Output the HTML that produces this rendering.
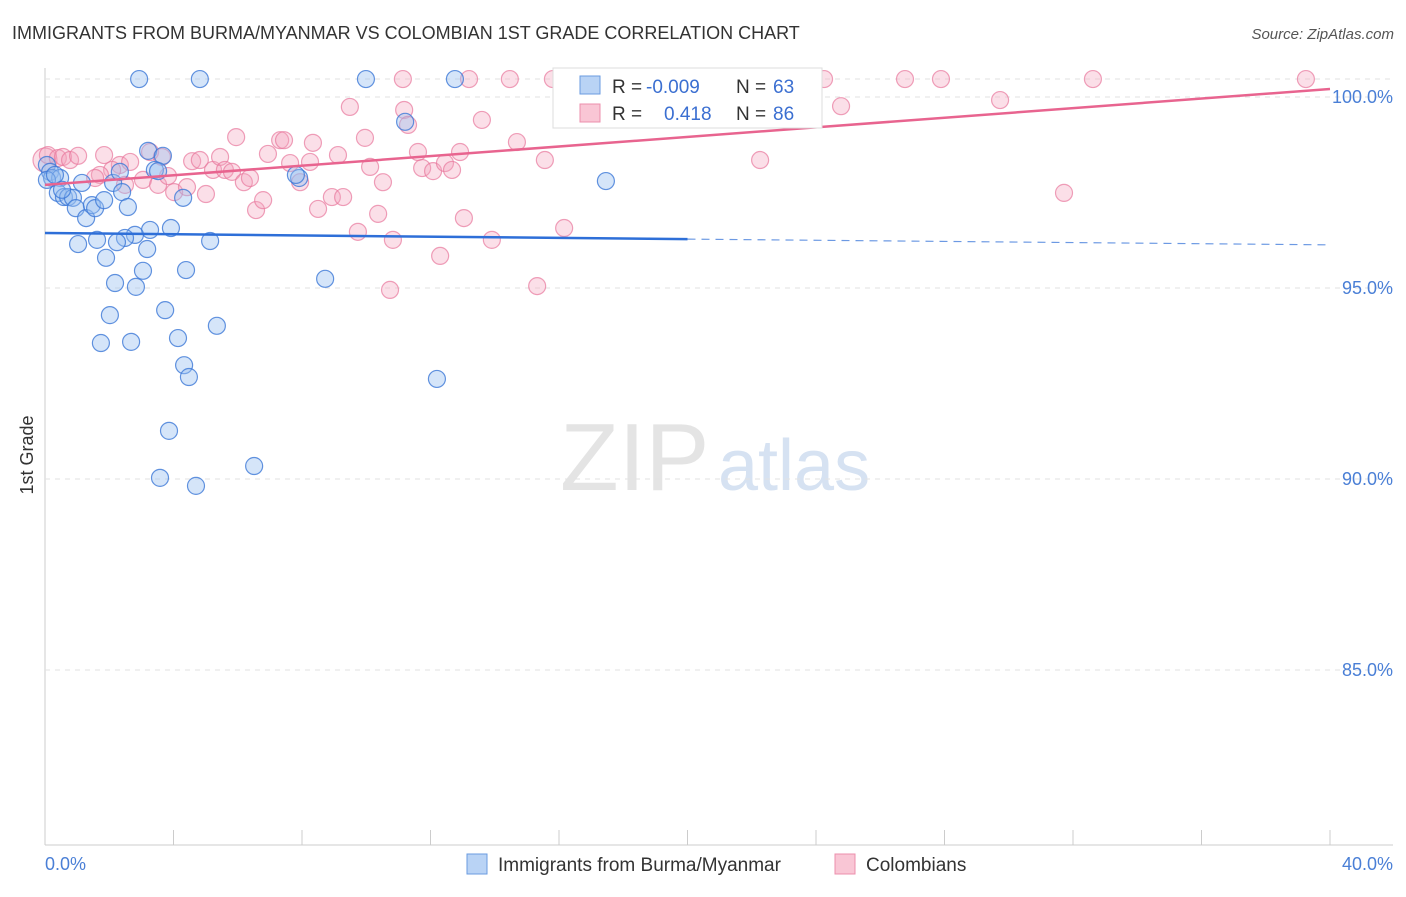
<!DOCTYPE html>
<html><head><meta charset="utf-8"><style>
body{margin:0;background:#fff;font-family:"Liberation Sans",sans-serif}
svg text{font-family:"Liberation Sans",sans-serif}
</style></head><body>
<svg id="chart" width="1406" height="892">
<text x="12" y="39" font-size="18" fill="#333">IMMIGRANTS FROM BURMA/MYANMAR VS COLOMBIAN 1ST GRADE CORRELATION CHART</text>
<text x="1394" y="39" font-size="15" fill="#555" font-style="italic" text-anchor="end">Source: ZipAtlas.com</text>
<text x="33" y="455" font-size="18" fill="#333" transform="rotate(-90 33 455)" text-anchor="middle">1st Grade</text>
<text x="560" y="490" font-size="96" fill="#e4e4e4" font-family="Liberation Serif">ZIP</text>
<text x="718" y="490" font-size="72" fill="#d6e2f2">atlas</text>
<g id="grid"></g><g id="pts"></g><g id="lines"></g>
<g>
<rect x="553" y="68" width="269" height="60" fill="#fff" stroke="#ddd"/>
<rect x="580" y="76" width="20" height="18" fill="#b9d3f5" stroke="#6a9be0"/>
<rect x="580" y="104" width="20" height="18" fill="#f9c6d5" stroke="#ec8fac"/>
<text x="612" y="93" font-size="19" fill="#333">R =</text><text x="646" y="93" font-size="19" fill="#3b6fd1">-0.009</text>
<text x="736" y="93" font-size="19" fill="#333">N =</text><text x="773" y="93" font-size="19" fill="#3b6fd1">63</text>
<text x="612" y="120" font-size="19" fill="#333">R =</text><text x="664" y="120" font-size="19" fill="#3b6fd1">0.418</text>
<text x="736" y="120" font-size="19" fill="#333">N =</text><text x="773" y="120" font-size="19" fill="#3b6fd1">86</text>
</g>
<g>
<rect x="467" y="854" width="20" height="20" fill="#b9d3f5" stroke="#6a9be0"/>
<text x="498" y="871" font-size="19" fill="#333">Immigrants from Burma/Myanmar</text>
<rect x="835" y="854" width="20" height="20" fill="#f9c6d5" stroke="#ec8fac"/>
<text x="866" y="871" font-size="19" fill="#333">Colombians</text>
</g>
<text x="45" y="870" font-size="18" fill="#4a7fd6">0.0%</text>
<text x="1393" y="870" font-size="18" fill="#4a7fd6" text-anchor="end">40.0%</text>
</svg>
<script>
const yTicks=[100,95,90,85];
const xTicks=[0,4,8,12,16,20,24,28,32,36,40];
const bluePx=[[139,79],[200,79],[366,79],[455,79],[405,122],[606,181],[148,151],[163,156],[155,170],[158,171],[47,165],[50,172],[52,178],[60,178],[58,193],[64,197],[68,197],[73,198],[76,208],[86,218],[82,183],[92,205],[95,208],[104,200],[113,183],[120,172],[122,192],[128,207],[183,198],[299,178],[296,175],[150,230],[171,228],[135,235],[125,238],[117,242],[97,240],[78,244],[147,249],[210,241],[106,258],[143,271],[186,270],[115,283],[136,287],[325,279],[165,310],[110,315],[217,326],[178,338],[101,343],[131,342],[184,365],[189,377],[437,379],[169,431],[254,466],[160,478],[196,486],[47,180],[55,175],[62,190]];
const pinkPx=[[45,160],[48,155],[58,158],[63,157],[70,160],[78,156],[104,155],[120,165],[130,162],[150,152],[162,157],[112,170],[100,175],[95,178],[125,185],[143,180],[158,185],[168,176],[174,192],[187,187],[192,161],[200,160],[206,194],[213,170],[220,157],[225,170],[236,137],[232,172],[244,182],[250,178],[256,210],[263,200],[268,154],[280,140],[284,140],[290,163],[300,182],[310,162],[313,143],[318,209],[332,197],[343,197],[338,155],[350,107],[358,232],[365,138],[370,167],[378,214],[383,182],[393,240],[404,110],[408,125],[403,79],[390,290],[418,152],[422,168],[433,171],[440,256],[445,163],[452,170],[460,152],[464,218],[469,79],[482,120],[492,240],[510,79],[517,142],[537,286],[545,160],[564,228],[553,79],[617,79],[760,160],[824,79],[841,106],[905,79],[941,79],[1000,100],[1064,193],[1093,79],[1306,79]];
const blueX=bluePx.map(p=>+((p[0]-45)/1285*40).toFixed(2));
const blueY=bluePx.map(p=>+(100-(p[1]-97)/38.2).toFixed(2));
const pinkX=pinkPx.map(p=>+((p[0]-45)/1285*40).toFixed(2));
const pinkY=pinkPx.map(p=>+(100-(p[1]-97)/38.2).toFixed(2));
const blueTrend=[[0,96.44],[20,96.28],[40,96.13]];
const pinkTrend=[[0,97.7],[40,100.21]];
const sx=v=>45+v/40*1285, sy=v=>97+(100-v)*38.2;
const NS='http://www.w3.org/2000/svg';
function mk(t,a,p){const e=document.createElementNS(NS,t);for(const k in a)e.setAttribute(k,a[k]);p.appendChild(e);return e;}
const grid=document.getElementById('grid');
mk('line',{x1:45,y1:68,x2:45,y2:845,stroke:'#ccc'},grid);
mk('line',{x1:45,y1:845,x2:1393,y2:845,stroke:'#ccc'},grid);
yTicks.forEach(t=>{
 const l=mk('line',{x1:45,y1:sy(t),x2:1393,y2:sy(t),stroke:'#e2e2e2','stroke-dasharray':'5,5'},grid);
 
 
 const tx=mk('text',{x:1393,y:sy(t)+6,'font-size':18,fill:'#4a7fd6','text-anchor':'end'},grid);tx.textContent=t.toFixed(1)+'%';
 
 
});
mk('line',{x1:45,y1:sy(100)-18,x2:1393,y2:sy(100)-18,stroke:'#e2e2e2','stroke-dasharray':'5,5'},grid);
xTicks.forEach(t=>{const l=mk('line',{x1:sx(t),y1:830,x2:sx(t),y2:845,stroke:'#ccc'},grid);
 
 });
const pts=document.getElementById('pts');
pinkX.forEach((x,i)=>{const c=mk('circle',{cx:sx(x),cy:sy(pinkY[i]),r:i==0?12:8.5,fill:'rgba(244,163,188,0.35)',stroke:'rgba(232,120,156,0.7)','stroke-width':1.2},pts);
 
 });
blueX.forEach((x,i)=>{const c=mk('circle',{cx:sx(x),cy:sy(blueY[i]),r:8.5,fill:'rgba(150,190,240,0.4)',stroke:'rgba(60,120,215,0.8)','stroke-width':1.2},pts);
 
 });
const lines=document.getElementById('lines');
let b1=mk('line',{x1:sx(blueTrend[0][0]),y1:sy(blueTrend[0][1]),x2:sx(blueTrend[1][0]),y2:sy(blueTrend[1][1]),stroke:'#2e6fd8','stroke-width':2.5},lines);


let b2=mk('line',{x1:sx(blueTrend[1][0]),y1:sy(blueTrend[1][1]),x2:sx(blueTrend[2][0]),y2:sy(blueTrend[2][1]),stroke:'#2e6fd8','stroke-width':1.2,'stroke-dasharray':'8,6',opacity:0.7},lines);


let p1=mk('line',{x1:sx(pinkTrend[0][0]),y1:sy(pinkTrend[0][1]),x2:sx(pinkTrend[1][0]),y2:sy(pinkTrend[1][1]),stroke:'#e8648f','stroke-width':2.5},lines);


</script>
</body></html>
